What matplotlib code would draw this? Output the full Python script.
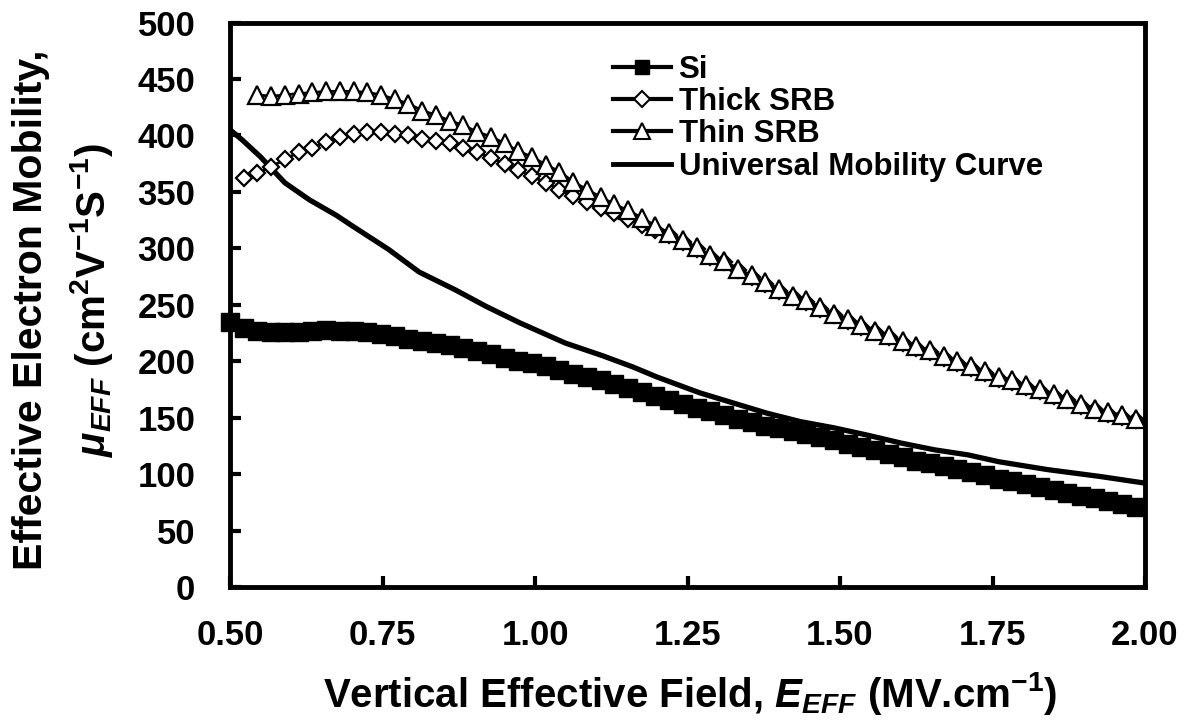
import matplotlib
matplotlib.use("Agg")
import matplotlib.pyplot as plt
from matplotlib.lines import Line2D

plt.rcParams['font.family'] = ['Liberation Sans', 'DejaVu Sans']
plt.rcParams['font.weight'] = 'bold'
plt.rcParams['mathtext.fontset'] = 'custom'
plt.rcParams['mathtext.rm'] = 'Liberation Sans:bold'
plt.rcParams['mathtext.bf'] = 'Liberation Sans:bold'
plt.rcParams['mathtext.it'] = 'Liberation Sans:bold:italic'
plt.rcParams['mathtext.default'] = 'rm'

# ---- data -------------------------------------------------------------
field = [0.5, 0.5225, 0.545, 0.5675, 0.59, 0.6125, 0.635, 0.6575, 0.68, 0.7025,
         0.725, 0.7475, 0.77, 0.7925, 0.815, 0.8375, 0.86, 0.8825, 0.905, 0.9275,
         0.95, 0.9725, 0.995, 1.0175, 1.04, 1.0625, 1.085, 1.1075, 1.13, 1.1525,
         1.175, 1.1975, 1.22, 1.2425, 1.265, 1.2875, 1.31, 1.3325, 1.355, 1.3775,
         1.4, 1.4225, 1.445, 1.4675, 1.49, 1.5125, 1.535, 1.5575, 1.58, 1.6025,
         1.625, 1.6475, 1.67, 1.6925, 1.715, 1.7375, 1.76, 1.7825, 1.805, 1.8275,
         1.85, 1.8725, 1.895, 1.9175, 1.94, 1.9625, 1.985]

si = [235, 229, 227, 226, 225.5, 226, 227, 227.5, 227, 226.5,
      226, 224.5, 222.5, 220, 218, 216, 214, 211.5, 209, 206,
      203, 200.5, 198, 195.5, 192, 189, 186, 183, 180, 176.5,
      173, 169.5, 166, 162, 158.5, 155.5, 152.5, 149, 146, 143,
      140.5, 138, 135.5, 133, 130, 127, 124, 121, 118, 115,
      112, 109.5, 107, 104.5, 102, 99, 96, 93.5, 91, 88.5,
      86, 83.5, 81, 78.5, 76, 73.5, 71]

thick_srb = [362.6, 367, 372, 379, 385, 389, 394, 399, 401, 403,
             403, 401, 400, 397, 395, 393, 389, 385, 380, 375,
             369, 364, 358, 352, 346, 341, 336, 331, 326, 321,
             316, 311.5, 305.5, 299.5, 292.5, 287.5, 280.5, 274.5, 268.5, 262.5,
             256.5, 252.5, 246.5, 240.5, 236, 230.5, 225.5, 221.3, 216, 212,
             208, 203, 198.5, 194, 189.5, 184.5, 181.5, 177, 173.5, 169.5,
             165.2, 160.5, 156.5, 153.5, 150.5, 147.5]

thin_srb = [436, 434.6, 436, 437, 438, 439, 439, 439, 438, 436,
            432, 428, 422, 418, 413, 409, 403, 399, 393, 386,
            381, 374, 368, 359, 352, 345.5, 339, 333.6, 327, 320,
            313.6, 307, 301, 294, 289, 282, 276, 270, 264, 258,
            254, 248, 242, 237.6, 232, 227, 222.8, 217.5, 213.5, 209.5,
            204.5, 200, 195.5, 191, 186, 183, 178.5, 175, 171, 166.7,
            162, 158, 155, 152, 149]

umc_field = [0.5, 0.52, 0.55, 0.59, 0.63, 0.675, 0.70, 0.76, 0.81, 0.87,
             0.92, 0.975, 1.0, 1.05, 1.11, 1.16, 1.2, 1.27, 1.325, 1.38,
             1.435, 1.49, 1.545, 1.60, 1.655, 1.71, 1.76, 1.84, 1.925, 2.0]
umc = [405, 396, 381, 358, 343, 329, 320, 299, 279, 263,
       248.5, 234, 228, 216, 205, 195, 186, 172, 163, 154,
       146.5, 141, 134.5, 127.5, 121.5, 117, 111, 104, 98, 92]

x_ticks = [0.50, 0.75, 1.00, 1.25, 1.50, 1.75, 2.00]
x_ticklabels = ['0.50', '0.75', '1.00', '1.25', '1.50', '1.75', '2.00']
y_ticks = [0, 50, 100, 150, 200, 250, 300, 350, 400, 450, 500]

labels = ['Si', 'Thick SRB', 'Thin SRB', 'Universal Mobility Curve']

# ---- figure -----------------------------------------------------------
W, H = 1190, 720
fig = plt.figure(figsize=(W / 100, H / 100), dpi=100)
ax = fig.add_axes([230 / W, 1 - 587 / H, (1145 - 230) / W, (587 - 22.5) / H])

ax.plot(field, si, color='black', lw=2.5, marker='s', ms=13.5,
        mfc='black', mec='black', mew=1, zorder=3, clip_on=False)
ax.plot(field[1:], thick_srb, color='black', lw=2, marker='D', ms=8.5,
        mfc='white', mec='black', mew=1.6, zorder=4, clip_on=False)
ax.plot(field[2:], thin_srb, color='black', lw=2, marker='^', ms=12.5,
        mfc='white', mec='black', mew=1.6, zorder=5, clip_on=False)
ax.plot(umc_field, umc, color='black', lw=3.8, zorder=3,
        solid_capstyle='round', solid_joinstyle='round')

ax.set_xlim(0.5, 2.0)
ax.set_ylim(0, 500)
ax.set_xticks(x_ticks)
ax.set_xticklabels(x_ticklabels)
ax.set_yticks(y_ticks)

for s in ax.spines.values():
    s.set_linewidth(3.5)
ax.tick_params(axis='both', which='both', direction='in', length=8, width=3,
               labelsize=25, top=False, right=False)
ax.tick_params(axis='y', pad=25)
ax.tick_params(axis='x', pad=23)
for t in ax.get_xticklabels() + ax.get_yticklabels():
    t.set_fontweight('bold')

# axis labels
fig.text(690 / W, 13 / H,
         r'Vertical Effective Field, $\mathit{E}_{\mathit{EFF}}$ (MV.cm$^{-1}$)',
         ha='center', va='baseline', fontsize=29, fontweight='bold')
fig.text(31 / W, 1 - 310 / H, 'Effective Electron Mobility,',
         rotation=90, ha='center', va='center', fontsize=29.5, fontweight='bold')
fig.text(92 / W, 1 - 300 / H,
         r'$\mathit{\mu}_{\mathit{EFF}}$ (cm$^{2}$V$^{-1}$S$^{-1}$)',
         rotation=90, ha='center', va='center', fontsize=29, fontweight='bold')

# legend
handles = [
    Line2D([], [], color='black', lw=3, marker='s', ms=9.5, mfc='black', mec='black'),
    Line2D([], [], color='black', lw=3, marker='D', ms=8, mfc='white', mec='black', mew=1.5),
    Line2D([], [], color='black', lw=3, marker='^', ms=11.5, mfc='white', mec='black', mew=1.5),
    Line2D([], [], color='black', lw=3.5),
]
leg = fig.legend(handles, labels, loc='upper left',
                 bbox_to_anchor=(613 / W, 1 - 55 / H), frameon=False,
                 prop={'size': 22.5, 'weight': 'bold'}, handlelength=1.85,
                 handletextpad=0.25, labelspacing=0.07, borderpad=0,
                 borderaxespad=0)

fig.savefig('out.png', dpi=100)
